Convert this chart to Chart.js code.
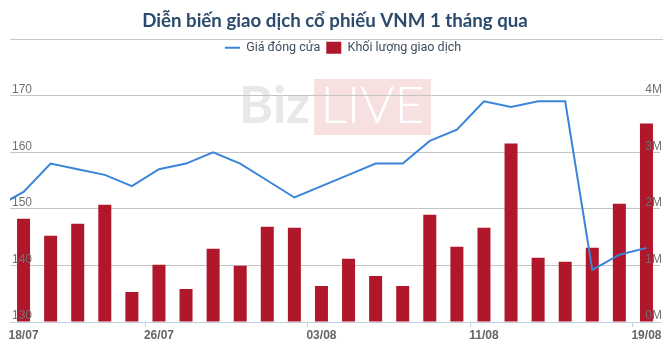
<!DOCTYPE html>
<html>
<head>
<meta charset="utf-8">
<script src="https://cdn.jsdelivr.net/npm/chart.js@4/dist/chart.umd.min.js"></script>
<style>
  html, body { margin: 0; padding: 0; background: #fff; }
  #wrap { width: 670px; height: 350px; }
</style>
</head>
<body>
<div id="wrap"><canvas id="myChart"></canvas></div>
<script>
'use strict';
// phien dau (18/07) nam ngoai khung, chi de duong gia chay vao tu mep trai
let dates = ['18/07','19/07','20/07','21/07','22/07','25/07','26/07','27/07','28/07','29/07',
  '01/08','02/08','03/08','04/08','05/08','08/08','09/08','10/08','11/08','12/08',
  '15/08','16/08','17/08','18/08','19/08'];
let tickDates = ['18/07','26/07','03/08','11/08','19/08'];
let closePrice = [150.3,153,158,157,156,154,157,158,160,158,
  155,152,154,156,158,158,162,164,169,168,
  169,169,139.2,141.9,143.1];
let volume = [null,1825000,1524000,1737000,2073000,532000,1010000,585000,1294000,992000,
  1683000,1666000,638000,1116000,815000,638000,1896000,1329000,1666000,3154000,
  1134000,1063000,1311000,2091000,3509000];
let priceMin = 130, priceMax = 170, priceStep = 10;
let volumeMax = 4000000, volumeStep = 1000000;

let blue = '#3a85d9';
let red = '#b0172a';

function hasTick(i){
    return tickDates.includes(dates[i]);
}

function tickLabel(i){
    if(hasTick(i)) return dates[i];
    // nhan cua phien ngoai khung duoc day vao mep trai
    if(i === 1 && hasTick(0)) return dates[0];
    return '';
}

let bizLive = {
    id: 'bizLive',
    afterLayout(chart){
        // chu giai lech sang phai mot chut nhu ban goc
        chart.legend.left += 8;
        chart.legend.right += 8;
    },
    beforeDraw(chart){
        let c = chart.ctx;
        let a = chart.chartArea;
        let mid = (a.left + a.right) / 2;
        c.save();
        c.strokeStyle = '#c8c8c8';
        c.lineWidth = 1;
        c.beginPath();
        c.moveTo(a.left, 39.5);
        c.lineTo(a.right + 3, 39.5);
        c.stroke();

        c.fillStyle = '#f6e0e0';
        c.fillRect(mid - 21, 79, 117, 56);
        c.textBaseline = 'alphabetic';
        c.font = '300 52px Lato';
        c.fillStyle = '#ffffff';
        c.textAlign = 'center';
        c.fillText('LIVE', mid + 37.5, 123);
        c.font = 'bold 52px Lato';
        c.fillStyle = '#e8e8e8';
        c.textAlign = 'right';
        c.fillText('Biz', mid - 25, 123);
        c.restore();
    }
};

let ctx = document.getElementById('myChart');
let myChart = new Chart(ctx, {
    data: {
        labels: dates,
        datasets: [{
            type: 'line',
            label: 'Giá đóng cửa',
            data: closePrice,
            yAxisID: 'y',
            borderColor: blue,
            backgroundColor: blue,
            borderWidth: 2,
            pointRadius: 0,
            pointHoverRadius: 0,
            tension: 0,
            pointStyle: 'line'
        },{
            type: 'bar',
            label: 'Khối lượng giao dịch',
            data: volume,
            yAxisID: 'y1',
            backgroundColor: red,
            borderWidth: 0,
            barPercentage: 0.48,
            categoryPercentage: 1,
            pointStyle: 'rect'
        }]
    },
    options: {
        responsive: true,
        maintainAspectRatio: false,
        animation: false,
        layout: { padding: 0 },
        plugins: {
            title: {
                display: true,
                text: 'Diễn biến giao dịch cổ phiếu VNM 1 tháng qua',
                color: '#2b4a6c',
                font: { family: 'Lato', size: 18.7, weight: 'bold' },
                padding: { top: 10, bottom: 3 }
            },
            legend: {
                labels: {
                    usePointStyle: true,
                    pointStyleWidth: 15,
                    boxHeight: 12,
                    padding: 6,
                    color: '#3e4d60',
                    font: { family: 'Roboto', size: 12.5 }
                }
            },
            tooltip: { enabled: false }
        },
        scales: {
            x: {
                type: 'category',
                min: dates[1],
                offset: true,
                grid: {
                    drawOnChartArea: false,
                    tickLength: 5,
                    tickColor: (c) => (c.tick && hasTick(c.tick.value)) ? '#c0d0e0' : 'rgba(0,0,0,0)'
                },
                border: { color: '#c0d0e0' },
                ticks: {
                    autoSkip: false,
                    maxRotation: 0,
                    padding: 1,
                    color: '#666',
                    font: { family: 'Liberation Sans', size: 12, weight: 'bold' },
                    callback: (v) => tickLabel(v)
                },
                afterFit: (s) => { s.height = 28; }
            },
            xTop: {
                type: 'category',
                position: 'top',
                grid: { display: false },
                ticks: { display: false },
                border: { display: false },
                afterFit: (s) => { s.height = 31.7; }
            },
            y: {
                position: 'left',
                min: priceMin,
                max: priceMax,
                ticks: {
                    stepSize: priceStep,
                    mirror: true,
                    padding: 2,
                    labelOffset: -6,
                    z: 1,
                    color: '#707070',
                    font: { family: 'Liberation Sans', size: 12 }
                },
                grid: { color: '#c4c4c4', drawTicks: false },
                border: { display: false },
                afterFit: (s) => { s.width = 10; }
            },
            y1: {
                position: 'right',
                min: 0,
                max: volumeMax,
                ticks: {
                    stepSize: volumeStep,
                    mirror: true,
                    padding: 2,
                    labelOffset: -6,
                    z: 1,
                    color: '#707070',
                    font: { family: 'Liberation Sans', size: 12 },
                    callback: (v) => (v / 1000000) + 'M'
                },
                grid: { drawOnChartArea: false, drawTicks: false },
                border: { display: false },
                afterFit: (s) => { s.width = 10; }
            }
        }
    },
    plugins: [bizLive]
});
</script>
</body>
</html>
